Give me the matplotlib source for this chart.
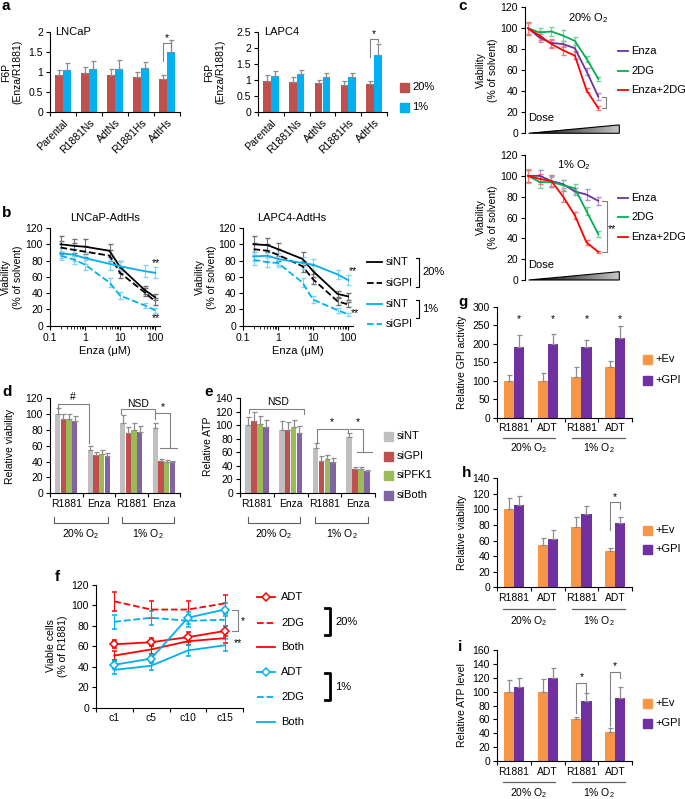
import numpy as np
import matplotlib
matplotlib.use('Agg')
import matplotlib.pyplot as plt
from matplotlib.patches import Rectangle, Polygon
from matplotlib.colors import LinearSegmentedColormap
from matplotlib import transforms

plt.rcParams['font.family'] = ['Liberation Sans', 'DejaVu Sans']
plt.rcParams['font.size'] = 7.5
plt.rcParams['mathtext.default'] = 'regular'
plt.rcParams['axes.linewidth'] = 0.8

# ---------------- data ----------------
# a: F6P ratio
a_cells = ['Parental', 'R1881Ns', 'AdtNs', 'R1881Hs', 'AdtHs']
lncap_20 = [0.92, 0.97, 0.93, 0.87, 0.82]
lncap_20_err = [0.14, 0.15, 0.15, 0.12, 0.11]
lncap_1 = [1.04, 1.08, 1.08, 1.09, 1.49]
lncap_1_err = [0.18, 0.20, 0.21, 0.17, 0.30]
lapc4_20 = [0.96, 0.94, 0.90, 0.85, 0.87]
lapc4_20_err = [0.19, 0.14, 0.11, 0.11, 0.09]
lapc4_1 = [1.11, 1.18, 1.08, 1.08, 1.79]
lapc4_1_err = [0.16, 0.12, 0.15, 0.15, 0.35]

# b: viability vs enza dose
enza_um = [0.2, 0.5, 1, 5, 10, 50, 100]
lncap_sint_20 = [100, 98, 97, 92, 72, 44, 35]
lncap_sint_20_err = [10, 9, 9, 8, 7, 5, 4]
lncap_sigpi_20 = [96, 93, 91, 86, 65, 41, 30]
lncap_sigpi_20_err = [8, 8, 7, 7, 6, 5, 4]
lncap_sint_1 = [89, 87, 83, 76, 73, 67, 65]
lncap_sint_1_err = [6, 7, 7, 7, 6, 7, 7]
lncap_sigpi_1 = [86, 81, 75, 53, 37, 25, 19]
lncap_sigpi_1_err = [5, 5, 6, 5, 4, 3, 3]
lapc4_sint_20 = [100, 99, 94, 82, 67, 39, 36]
lapc4_sint_20_err = [10, 9, 8, 8, 7, 4, 4]
lapc4_sigpi_20 = [94, 92, 87, 73, 57, 30, 26]
lapc4_sigpi_20_err = [8, 8, 7, 7, 6, 4, 3]
lapc4_sint_1 = [85, 86, 82, 77, 75, 63, 56]
lapc4_sint_1_err = [6, 7, 7, 7, 7, 6, 6]
lapc4_sigpi_1 = [81, 78, 77, 53, 32, 19, 14]
lapc4_sigpi_1_err = [6, 6, 5, 5, 4, 3, 2]

# c: dose response, 7 doses
c_dose = np.arange(7)
c20_enza = [100, 91, 86, 85, 81, 59, 35]
c20_enza_err = [5, 4, 4, 3, 3, 3, 3]
c20_2dg = [100, 96, 97, 93, 88, 71, 52]
c20_2dg_err = [5, 4, 4, 5, 4, 3, 2]
c20_combo = [100, 93, 85, 79, 74, 41, 24]
c20_combo_err = [6, 4, 4, 4, 3, 2, 2]
c1_enza = [100, 100, 95, 92, 85, 82, 76]
c1_enza_err = [6, 6, 5, 4, 3, 5, 4]
c1_2dg = [100, 94, 94, 91, 88, 66, 44]
c1_2dg_err = [7, 6, 5, 5, 4, 4, 3]
c1_combo = [100, 97, 95, 80, 62, 36, 27]
c1_combo_err = [6, 5, 6, 5, 3, 2, 1]

# d, e: siRNA bars
de_groups = ['R1881', 'Enza', 'R1881', 'Enza']
si_names = ['siNT', 'siGPI', 'siPFK1', 'siBoth']
d_sint = [100, 54, 88, 82]
d_sint_err = [7, 6, 10, 7]
d_sigpi = [94, 48, 76, 41]
d_sigpi_err = [6, 4, 8, 2]
d_sipfk1 = [94, 50, 80, 40]
d_sipfk1_err = [6, 4, 8, 2]
d_siboth = [91, 47, 77, 39]
d_siboth_err = [6, 4, 8, 2]
e_sint = [100, 93, 67, 82]
e_sint_err = [12, 13, 6, 7]
e_sigpi = [106, 93, 47, 36]
e_sigpi_err = [13, 11, 7, 2]
e_sipfk1 = [101, 97, 50, 36]
e_sipfk1_err = [13, 11, 6, 3]
e_siboth = [97, 88, 46, 32]
e_siboth_err = [11, 11, 5, 2]

# f: viable cells over cycles
f_cycles = ['c1', 'c5', 'c10', 'c15']
f_adt_20 = [62, 64, 69, 75]
f_adt_20_err = [4, 4, 5, 5]
f_2dg_20 = [104, 96, 96, 102]
f_2dg_20_err = [9, 8, 8, 8]
f_both_20 = [51, 57, 65, 68]
f_both_20_err = [4, 4, 4, 5]
f_adt_1 = [42, 48, 88, 96]
f_adt_1_err = [4, 4, 6, 6]
f_2dg_1 = [84, 88, 85, 86]
f_2dg_1_err = [7, 7, 6, 6]
f_both_1 = [37, 41, 56, 61]
f_both_1_err = [4, 4, 5, 6]

# g, h, i: Ev vs GPI
ghi_groups = ['R1881', 'ADT', 'R1881', 'ADT']
g_ev = [100, 98, 111, 136]
g_ev_err = [16, 22, 27, 16]
g_gpi = [190, 198, 190, 215]
g_gpi_err = [34, 29, 20, 32]
h_ev = [100, 54, 78, 46]
h_ev_err = [15, 9, 12, 5]
h_gpi = [106, 62, 94, 83]
h_gpi_err = [11, 12, 11, 7]
i_ev = [100, 99, 60, 42]
i_ev_err = [17, 19, 4, 5]
i_gpi = [107, 119, 86, 91]
i_gpi_err = [13, 15, 12, 16]

# colours
RED_A = '#C0504D'
CYAN = '#00B0F0'
GREY_BAR = '#BFBFBF'
GREEN_BAR = '#9BBB59'
PURPLE_BAR = '#8064A2'
ORANGE = '#F79646'
PURPLE = '#7030A0'
ERR = '#8C8C8C'
SIG = '#808080'

W, H = 685, 799
fig = plt.figure(figsize=(W / 100, H / 100), dpi=100)

# overlay in pixel coordinates for legends / labels
ov = fig.add_axes([0, 0, 1, 1])
ov.set_xlim(0, W)
ov.set_ylim(H, 0)
ov.axis('off')
ov.set_zorder(10)


def add_ax(l, t, r, b):
    ax = fig.add_axes([l / W, 1 - b / H, (r - l) / W, (b - t) / H])
    ax.spines['top'].set_visible(False)
    ax.spines['right'].set_visible(False)
    ax.tick_params(length=3, width=0.8, pad=2, labelsize=7.5)
    ax.patch.set_alpha(0)
    return ax


def xpx(ax):
    # x in data units of ax, y in figure pixels
    return transforms.blended_transform_factory(ax.transData, ov.transData)


def cat_axis(ax, labels, rot=0):
    n = len(labels)
    ax.set_xlim(-0.5, n - 0.5)
    ax.set_xticks(np.arange(n + 1) - 0.5)
    ax.set_xticklabels([])
    if rot:
        ax.set_xticks(np.arange(n), labels, minor=True, rotation=rot,
                      ha='right', rotation_mode='anchor')
    else:
        ax.set_xticks(np.arange(n), labels, minor=True)
    ax.tick_params(axis='x', which='minor', length=0, pad=4)


def bars(ax, xs, vals, errs, color, width):
    ax.bar(xs, vals, width, color=color,
           yerr=[np.zeros(len(errs)), errs],
           error_kw=dict(ecolor=ERR, elinewidth=0.9, capsize=1.8, capthick=0.9))


def sig(ax, xs, ys):
    ax.plot(xs, ys, color=SIG, lw=0.8, clip_on=False)


def vlabel(x, y, s):
    ov.text(x, y, s, rotation=90, ha='center', va='center', linespacing=1.15)


def letter(x, y, s):
    ov.text(x, y, s, fontsize=11, fontweight='bold', ha='left', va='center')


# ---------------- a ----------------
x5 = np.arange(len(a_cells))
for (l, r), v20, e20, v1, e1, ymax, ticks, tlabs, name, nx, brk, star in [
        ((50, 180), lncap_20, lncap_20_err, lncap_1, lncap_1_err, 2,
         [0, 0.5, 1, 1.5, 2], ['0', '0.5', '1', '1.5', '2'], 'LNCaP', -0.31,
         [1.28, 1.72, 1.72, 1.63], 1.84),
        ((258, 387), lapc4_20, lapc4_20_err, lapc4_1, lapc4_1_err, 2.5,
         [0, 0.5, 1, 1.5, 2, 2.5], ['0', '0.5', '1', '1.5', '2', '2.5'], 'LAPC4', -0.25,
         [1.73, 2.27, 2.27, 2.18], 2.42)]:
    ax = add_ax(l, 32, r, 112)
    bars(ax, x5 - 0.15, v20, e20, RED_A, 0.29)
    bars(ax, x5 + 0.15, v1, e1, CYAN, 0.29)
    cat_axis(ax, a_cells, rot=45)
    ax.set_ylim(0, ymax)
    ax.set_yticks(ticks, tlabs)
    ax.text(nx, ymax, name, va='center', ha='left', fontsize=8)
    sig(ax, [3.85, 3.85, 4.15, 4.15], brk)
    ax.text(4.0, star, '*', ha='center', va='center')

vlabel(12, 72, 'F6P\n(Enza/R1881)')
vlabel(215, 72, 'F6P\n(Enza/R1881)')
for y, c, lab in [(87, RED_A, '20%'), (107, CYAN, '1%')]:
    ov.add_patch(Rectangle((400, y - 4.5), 9, 9, color=c))
    ov.text(412, y, lab, va='center', fontsize=8)
letter(2, 6, 'a')

# ---------------- b ----------------
for (l, r), title, tx, series, stars in [
        ((50, 160), 'LNCaP-AdtHs', 105,
         [(lncap_sint_20, lncap_sint_20_err, 'black', '-', '#707070'),
          (lncap_sigpi_20, lncap_sigpi_20_err, 'black', '--', '#707070'),
          (lncap_sint_1, lncap_sint_1_err, CYAN, '-', '#7FD4F7'),
          (lncap_sigpi_1, lncap_sigpi_1_err, CYAN, '--', '#7FD4F7')],
         [(107, 77), (107, 9)]),
        ((243, 353), 'LAPC4-AdtHs', 292,
         [(lapc4_sint_20, lapc4_sint_20_err, 'black', '-', '#707070'),
          (lapc4_sigpi_20, lapc4_sigpi_20_err, 'black', '--', '#707070'),
          (lapc4_sint_1, lapc4_sint_1_err, CYAN, '-', '#7FD4F7'),
          (lapc4_sigpi_1, lapc4_sigpi_1_err, CYAN, '--', '#7FD4F7')],
         [(140, 67), (158, 16)])]:
    ax = add_ax(l, 228, r, 325.7)
    ax.set_xscale('log')
    for y, e, c, ls, ec in series:
        ax.errorbar(enza_um, y, yerr=e, color=c, ls=ls, lw=1.3,
                    elinewidth=0.8, ecolor=ec, capsize=1.8)
    ax.set_xlim(0.1, 138)
    ax.set_ylim(0, 120)
    ax.set_yticks(range(0, 121, 20))
    ax.set_xticks([0.1, 1, 10, 100], ['0.1', '1', '10', '100'])
    ax.tick_params(axis='x', which='minor', length=1.8, width=0.6)
    for sx, sy in stars:
        ax.text(sx, sy, '**', ha='center', va='center', clip_on=False)
    ov.text(tx, 218, title, ha='center', va='center', fontsize=8)
    ov.text((l + r) / 2, 351, 'Enza (\u03bcM)', ha='center', va='center', fontsize=8)

vlabel(12, 277, 'Viability\n(% of solvent)')
vlabel(206, 277, 'Viability\n(% of solvent)')
for y, c, ls, lab in [(262, 'black', '-', 'siNT'), (283, 'black', '--', 'siGPI'),
                      (304, CYAN, '-', 'siNT'), (324, CYAN, '--', 'siGPI')]:
    ov.plot([367, 382], [y, y], color=c, ls=ls, lw=1.3)
    ov.text(386, y, lab, va='center', fontsize=8)
ov.plot([416, 419, 419, 416], [258, 258, 287, 287], color='black', lw=0.8)
ov.text(422, 272, '20%', va='center', fontsize=8)
ov.plot([416, 419, 419, 416], [300, 300, 318, 318], color='black', lw=0.8)
ov.text(422, 309, '1%', va='center', fontsize=8)
letter(2, 213, 'b')

# ---------------- c ----------------
tri_cmap = LinearSegmentedColormap.from_list('tri', ['#000000', '#C8C8C8'])
for (t, b), cond, cx, series, brk, stars, leg_y in [
        ((7.3, 133.3), '20% O$_2$', 5.1,
         [(c20_enza, c20_enza_err, PURPLE, '#B08FCC'),
          (c20_2dg, c20_2dg_err, '#00B050', '#6FD49A'),
          (c20_combo, c20_combo_err, '#FF0000', '#FF7070')],
         ([6.3, 6.65, 6.65, 6.3], [35, 35, 24, 24]), None, [51, 71, 90]),
        ((155, 280), '1% O$_2$', 3.9,
         [(c1_enza, c1_enza_err, PURPLE, '#B08FCC'),
          (c1_2dg, c1_2dg_err, '#00B050', '#6FD49A'),
          (c1_combo, c1_combo_err, '#FF0000', '#FF7070')],
         ([6.35, 6.72, 6.72, 6.35], [76, 76, 27, 27]), (7.15, 49), [198, 217, 237])]:
    ax = add_ax(525, t, 620, b)
    for y, e, c, ec in series:
        ax.errorbar(c_dose, y, yerr=e, color=c, lw=1.3, elinewidth=0.8,
                    ecolor=ec, capsize=1.8)
    tri = Polygon([[0.05, 0], [7.8, 0], [7.8, 8]], closed=True, fill=False,
                  edgecolor='black', lw=0.8, clip_on=False)
    ax.add_patch(tri)
    grad = ax.imshow(np.linspace(0, 1, 100).reshape(1, -1), cmap=tri_cmap,
                     extent=[0.05, 7.8, 0, 8], aspect='auto', zorder=0)
    grad.set_clip_path(tri)
    ax.text(0.0, 9.5, 'Dose', va='bottom', ha='left', fontsize=8)
    ax.set_xlim(-0.26, 7.86)
    ax.set_ylim(0, 120)
    ax.set_yticks(range(0, 121, 20))
    ax.spines['bottom'].set_visible(False)
    ax.set_xticks([])
    ax.text(cx, 110, cond, ha='center', va='center', fontsize=8)
    sig(ax, *brk)
    if stars:
        ax.text(stars[0], stars[1], '**', ha='center', va='center', clip_on=False)
    for yy, (_, _, c, _), lab in zip(leg_y, series, ['Enza', '2DG', 'Enza+2DG']):
        ov.plot([618, 628], [yy, yy], color=c, lw=1.3)
        ov.text(631, yy, lab, va='center', fontsize=8)
    vlabel(487, (t + b) / 2, 'Viability\n(% of solvent)')
letter(458, 6, 'c')

# ---------------- d, e ----------------
x4 = np.arange(len(de_groups))
si_colors = [GREY_BAR, RED_A, GREEN_BAR, PURPLE_BAR]
offs = np.array([-1.5, -0.5, 0.5, 1.5]) * 0.175

ax_d = add_ax(50, 398, 180, 493.3)
for k, (v, e) in enumerate([(d_sint, d_sint_err), (d_sigpi, d_sigpi_err),
                            (d_sipfk1, d_sipfk1_err), (d_siboth, d_siboth_err)]):
    bars(ax_d, x4 + offs[k], v, e, si_colors[k], 0.165)
cat_axis(ax_d, de_groups)
ax_d.set_ylim(0, 120)
ax_d.set_yticks(range(0, 121, 20))
sig(ax_d, [-0.26, -0.26, 0.7, 0.7], [106, 113, 113, 63])
ax_d.text(0.21, 121, '#', ha='center', va='center')
sig(ax_d, [1.67, 1.67, 2.73, 2.73], [100, 106, 106, 94])
ax_d.text(2.22, 112, 'NSD', ha='center', va='center')
sig(ax_d, [2.76, 3.19, 3.19], [101, 101, 57])
sig(ax_d, [2.88, 3.4], [57, 57])
ax_d.text(2.97, 108, '*', ha='center', va='center')
vlabel(10, 446, 'Relative viability')
letter(2, 392, 'd')

ax_e = add_ax(240, 398, 375, 493)
for k, (v, e) in enumerate([(e_sint, e_sint_err), (e_sigpi, e_sigpi_err),
                            (e_sipfk1, e_sipfk1_err), (e_siboth, e_siboth_err)]):
    bars(ax_e, x4 + offs[k], v, e, si_colors[k], 0.165)
cat_axis(ax_e, de_groups)
ax_e.set_ylim(0, 140)
ax_e.set_yticks(range(0, 141, 20))
sig(ax_e, [-0.22, -0.22, 1.4, 1.4], [118, 124.5, 124.5, 117])
ax_e.text(0.63, 134, 'NSD', ha='center', va='center')
sig(ax_e, [1.77, 1.77, 2.71, 2.71], [73, 95, 95, 88])
ax_e.text(2.23, 105, '*', ha='center', va='center')
sig(ax_e, [2.76, 3.15, 3.15], [95, 95, 60])
sig(ax_e, [2.96, 3.4], [60, 60])
ax_e.text(2.99, 105, '*', ha='center', va='center')
vlabel(208, 446, 'Relative ATP')
letter(204, 392, 'e')

for ax, spans in [(ax_d, [(-0.38, 1.28), (1.7, 3.3)]), (ax_e, [(-0.26, 1.28), (1.72, 3.29)])]:
    tr = xpx(ax)
    for (x0, x1), lab in zip(spans, ['20% O$_2$', '1% O$_2$']):
        ov.plot([x0, x0, x1, x1], [517, 523, 523, 517], color='#606060', lw=0.8, transform=tr)
        ov.text((x0 + x1) / 2, 534, lab, ha='center', va='center', transform=tr)

for y, c, lab in zip([436, 456, 475, 495], si_colors, si_names):
    ov.add_patch(Rectangle((384, y - 4.5), 9, 9, color=c))
    ov.text(397, y, lab, va='center', fontsize=8)

# ---------------- f ----------------
ax_f = add_ax(96, 585, 243, 707.7)
xf = np.arange(len(f_cycles))
f_series = [(f_adt_20, f_adt_20_err, '#FF0000', '-', True),
            (f_2dg_20, f_2dg_20_err, '#FF0000', '--', False),
            (f_both_20, f_both_20_err, '#FF0000', '-', False),
            (f_adt_1, f_adt_1_err, CYAN, '-', True),
            (f_2dg_1, f_2dg_1_err, CYAN, '--', False),
            (f_both_1, f_both_1_err, CYAN, '-', False)]
for y, e, c, ls, mk in f_series:
    ax_f.errorbar(xf, y, yerr=e, color=c, ls=ls, lw=1.3, elinewidth=0.8,
                  ecolor=c, capsize=1.8, marker='D' if mk else None,
                  ms=4, mfc='white', mec=c, mew=1.1)
cat_axis(ax_f, f_cycles)
ax_f.set_ylim(0, 120)
ax_f.set_yticks(range(0, 121, 20))
sig(ax_f, [3.2, 3.36, 3.36, 3.2], [96, 96, 75, 75])
ax_f.text(3.5, 85, '*', ha='center', va='center', clip_on=False)
ax_f.text(3.36, 63, '**', ha='center', va='center', clip_on=False)
vlabel(57, 646, 'Viable cells\n(% of R1881)')
letter(55, 577, 'f')
for yy, (_, _, c, ls, mk), lab in zip([597, 622.7, 647.3, 672.3, 697.3, 722.3], f_series,
                                      ['ADT', '2DG', 'Both', 'ADT', '2DG', 'Both']):
    ov.plot([257, 275], [yy, yy], color=c, ls=ls, lw=1.3)
    if mk:
        ov.plot([266], [yy], marker='D', ms=4, mfc='white', mec=c, mew=1.1)
    ov.text(281, yy, lab, va='center', fontsize=8)
ov.plot([325, 330, 330, 325], [608, 608, 635, 635], color='black', lw=2)
ov.text(335, 622, '20%', va='center', fontsize=8)
ov.plot([325, 330, 330, 325], [673, 673, 700, 700], color='black', lw=2)
ov.text(335, 687, '1%', va='center', fontsize=8)

# ---------------- g, h, i ----------------
for (t, b), ev, eve, gp, gpe, ymax, ylab, leg_y, lab_y, let in [
        ((306.7, 417.7), g_ev, g_ev_err, g_gpi, g_gpi_err, 300, 'Relative GPI activity',
         (359, 380), (438, 448), ('g', 458, 302)),
        ((478.3, 587.3), h_ev, h_ev_err, h_gpi, h_gpi_err, 140, 'Relative viability',
         (530, 549), (609, 621), ('h', 462, 473)),
        ((650, 761), i_ev, i_ev_err, i_gpi, i_gpi_err, 160, 'Relative ATP level',
         (703, 723), (782, 793), ('i', 458, 647))]:
    ax = add_ax(497, t, 632, b)
    bars(ax, x4 - 0.15, ev, eve, ORANGE, 0.3)
    bars(ax, x4 + 0.15, gp, gpe, PURPLE, 0.3)
    cat_axis(ax, ghi_groups)
    ax.set_ylim(0, ymax)
    ax.set_yticks(range(0, ymax + 1, 50 if ymax == 300 else 20))
    tr = xpx(ax)
    for (x0, x1), lab in zip([(-0.32, 1.22), (1.72, 3.29)], ['20% O$_2$', '1% O$_2$']):
        ov.plot([x0, x1], [lab_y[0], lab_y[0]], color='#606060', lw=0.9, transform=tr)
        ov.text((x0 + x1) / 2, lab_y[1], lab, ha='center', va='center', transform=tr)
    for yy, c, lab in zip(leg_y, [ORANGE, PURPLE], ['+Ev', '+GPI']):
        ov.add_patch(Rectangle((643, yy - 4.5), 9, 9, color=c))
        ov.text(655, yy, lab, va='center', fontsize=8)
    vlabel(462, (t + b) / 2, ylab)
    letter(let[1], let[2], let[0])
    if let[0] == 'g':
        for xx in x4 + 0.15:
            ax.text(xx, 266, '*', ha='center', va='center')
    elif let[0] == 'h':
        sig(ax, [2.85, 2.85, 3.15, 3.15], [74, 109, 109, 100])
        ax.text(3.0, 116, '*', ha='center', va='center')
    else:
        sig(ax, [1.85, 1.85, 2.15, 2.15], [69, 113, 113, 100])
        ax.text(2.0, 121, '*', ha='center', va='center')
        sig(ax, [2.85, 2.85, 3.15, 3.15], [50, 129, 129, 120])
        ax.text(3.0, 137, '*', ha='center', va='center')

fig.savefig('out.png', dpi=100)
